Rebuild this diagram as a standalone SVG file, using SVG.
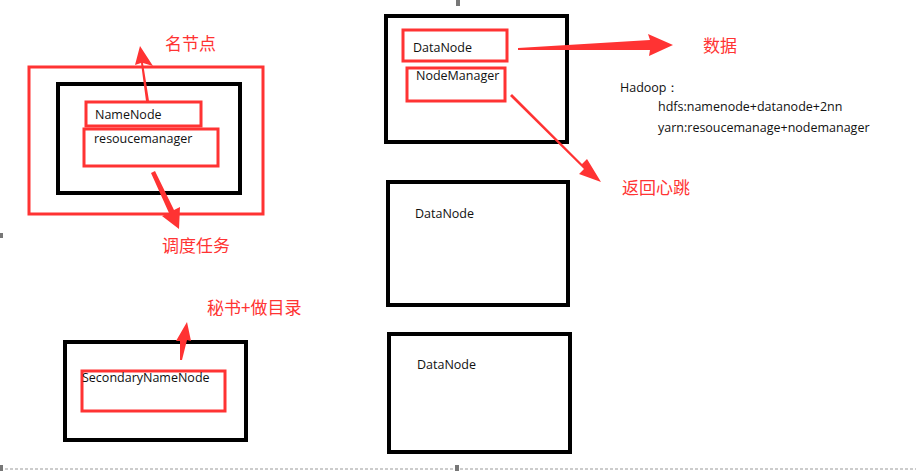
<svg xmlns="http://www.w3.org/2000/svg" width="916" height="473" viewBox="0 0 916 473">
<style>
.blk{fill:none;stroke:#000;stroke-width:4}
.red{fill:none;stroke:#f33;stroke-width:3}
.t{font-family:"Open Sans","Liberation Sans",sans-serif;font-size:12.5px;fill:#111}
.c{font-family:"Noto Sans CJK SC",sans-serif;font-size:17px;fill:#f33}
.arr{fill:#f33;stroke:none}
</style>
<rect width="916" height="473" fill="#fff"/>
<line x1="0" y1="469" x2="916" y2="469" stroke="#999" stroke-dasharray="3,2"/>
<rect x="456" y="0" width="4" height="6" fill="#777"/><rect x="0" y="233" width="3" height="5" fill="#777"/><rect x="0" y="465" width="3" height="6" fill="#777"/><rect x="455" y="465" width="4" height="6" fill="#777"/>
<g id="master">
<rect class="red" x="29" y="67" width="234" height="147"/>
<rect class="blk" x="58" y="84" width="182" height="109"/>
<rect class="red" x="86" y="102" width="115" height="24"/>
<text class="t" x="95" y="119">NameNode</text>
<rect class="red" x="84" y="129" width="134" height="37"/>
<text class="t" x="94" y="143">resoucemanager</text>
</g>
<g id="dn1">
<rect class="blk" x="386" y="16" width="181" height="126"/>
<rect class="red" x="403" y="30" width="104" height="31"/>
<text class="t" x="413" y="52">DataNode</text>
<rect class="red" x="407" y="68" width="98" height="33"/>
<text class="t" x="416" y="80">NodeManager</text>
</g>
<g id="dn2"><rect class="blk" x="388" y="182" width="180" height="123"/><text class="t" x="415" y="218">DataNode</text></g>
<g id="dn3"><rect class="blk" x="389" y="334" width="181" height="118"/><text class="t" x="417" y="369">DataNode</text></g>
<g id="snn">
<rect class="blk" x="65" y="342" width="181" height="98"/>
<rect class="red" x="82" y="371" width="143" height="40"/>
<text class="t" x="82" y="382">SecondaryNameNode</text>
</g>
<g id="hadoop" class="t">
<text x="620" y="92">Hadoop：</text>
<text x="658" y="111">hdfs:namenode+datanode+2nn</text>
<text x="658" y="132">yarn:resoucemanage+nodemanager</text>
</g>
<g id="labels">
<text class="c" x="165" y="50">名节点</text>
<text class="c" x="162" y="252">调度任务</text>
<text class="c" x="703" y="52">数据</text>
<text class="c" x="622" y="194">返回心跳</text>
<text class="c" x="207" y="314">秘书+做目录</text>
</g>
<g id="connectors">
<polygon class="arr" points="146,101 149,101 143,63 153,66 140,46 135,65 141,63"/>
<polygon class="arr" points="151,173 155,171 174,210 180,207 179,229 162,216 169,213"/>
<polygon class="arr" points="518,50 518,48 650,40 648,34 673,45 649,56 650,50"/>
<polygon class="arr" points="510,96 512,94 582,164 587,159 601,182 579,174 584,169"/>
<polygon class="arr" points="180,360 182,360 187,340 191,341 187,322 176,341 180,341"/>
</g>
</svg>
